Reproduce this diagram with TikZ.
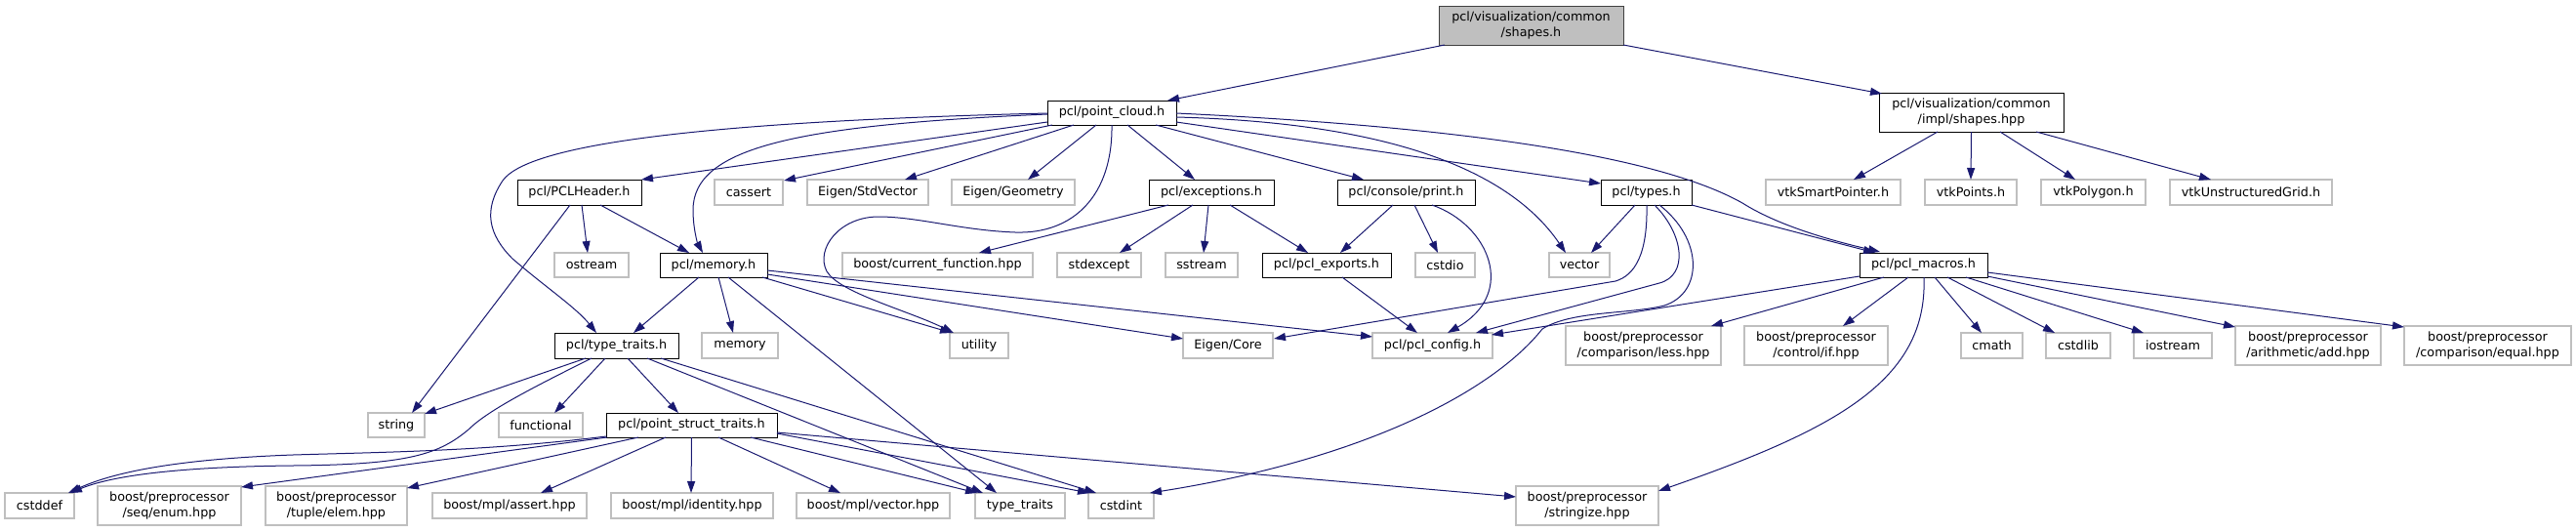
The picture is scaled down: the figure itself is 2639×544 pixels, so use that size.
\documentclass[tikz,border=0pt]{standalone}
\usepackage{fontspec}
\setmainfont{DejaVu Sans}
\usetikzlibrary{calc,arrows.meta}
\definecolor{edgec}{HTML}{191970}
\definecolor{extc}{HTML}{BFBFBF}
\definecolor{rootfill}{HTML}{BFBFBF}
\definecolor{rootdraw}{HTML}{404040}
\tikzset{
  box/.style={rectangle, inner sep=0pt, align=center, font=\fontsize{12.75pt}{16pt}\selectfont, line width=1pt, text=black},
  docbox/.style={box, draw=black, fill=white},
  extbox/.style={box, draw=extc, fill=white, line width=1.3pt},
  rootbox/.style={box, draw=rootdraw, fill=rootfill},
  oneline/.style={minimum height=25pt},
  twoline/.style={minimum height=40pt},
  e/.style={draw=edgec, line width=1pt, -{Triangle[length=12pt,width=8pt]}},
}
\begin{document}
\begin{tikzpicture}[x=1pt,y=-1pt]
\useasboundingbox (0,0) rectangle (2639,544);
% row 0/1
\node[rootbox, twoline, minimum width=189pt] (shapesh) at (1568.5,26) {pcl/visualization/common\\/shapes.h};
\node[docbox, oneline, minimum width=132pt] (pc) at (1139,115.5) {pcl/point\_cloud.h};
\node[docbox, twoline, minimum width=189pt] (shapeshpp) at (2019.5,115) {pcl/visualization/common\\/impl/shapes.hpp};
% row 2
\node[docbox, oneline, minimum height=26pt, minimum width=127pt] (pclheader) at (593.5,197) {pcl/PCLHeader.h};
\node[extbox, minimum height=26pt, minimum width=70pt] (cassert) at (767,197) {cassert};
\node[extbox, minimum height=26pt, minimum width=124pt] (stdvector) at (889,197) {Eigen/StdVector};
\node[extbox, minimum height=26pt, minimum width=126pt] (geometry) at (1038,197) {Eigen/Geometry};
\node[docbox, minimum height=26pt, minimum width=128pt] (exceptions) at (1241,197) {pcl/exceptions.h};
\node[docbox, minimum height=26pt, minimum width=141pt] (print) at (1440.5,197) {pcl/console/print.h};
\node[docbox, minimum height=26pt, minimum width=93pt] (types) at (1686.5,197) {pcl/types.h};
\node[extbox, minimum height=26pt, minimum width=138pt] (vtksp) at (1878,197) {vtkSmartPointer.h};
\node[extbox, minimum height=26pt, minimum width=94pt] (vtkpoints) at (2019,197) {vtkPoints.h};
\node[extbox, minimum height=26pt, minimum width=107pt] (vtkpolygon) at (2144.5,197) {vtkPolygon.h};
\node[extbox, minimum height=26pt, minimum width=166pt] (vtkug) at (2306,197) {vtkUnstructuredGrid.h};
% row 3
\node[extbox, oneline, minimum width=76pt] (ostream) at (606,271.5) {ostream};
\node[docbox, oneline, minimum width=110pt] (memoryh) at (731,271.5) {pcl/memory.h};
\node[extbox, oneline, minimum width=195pt] (curfn) at (960.5,271.5) {boost/current\_function.hpp};
\node[extbox, oneline, minimum width=86pt] (stdexcept) at (1126,271.5) {stdexcept};
\node[extbox, oneline, minimum width=74pt] (sstream) at (1231,271.5) {sstream};
\node[docbox, oneline, minimum width=132pt] (exports) at (1359,271.5) {pcl/pcl\_exports.h};
\node[extbox, oneline, minimum width=61pt] (cstdio) at (1480.5,271.5) {cstdio};
\node[extbox, oneline, minimum width=62pt] (vector) at (1618,271.5) {vector};
\node[docbox, oneline, minimum width=131pt] (macros) at (1970.5,271.5) {pcl/pcl\_macros.h};
% row 4
\node[docbox, minimum height=26pt, minimum width=127pt] (typetraitsh) at (631.5,354) {pcl/type\_traits.h};
\node[extbox, minimum height=26pt, minimum width=78pt] (memory) at (758,354) {memory};
\node[extbox, minimum height=26pt, minimum width=60pt] (utility) at (1003,354) {utility};
\node[extbox, minimum height=26pt, minimum width=92pt] (eigencore) at (1258,354) {Eigen/Core};
\node[extbox, minimum height=26pt, minimum width=123pt] (config) at (1467.5,354) {pcl/pcl\_config.h};
\node[extbox, twoline, minimum width=159pt] (less) at (1683.5,354) {boost/preprocessor\\/comparison/less.hpp};
\node[extbox, twoline, minimum width=147pt] (ifhpp) at (1860.5,354) {boost/preprocessor\\/control/if.hpp};
\node[extbox, minimum height=26pt, minimum width=63pt] (cmath) at (2040.5,354) {cmath};
\node[extbox, minimum height=26pt, minimum width=66pt] (cstdlib) at (2129,354) {cstdlib};
\node[extbox, minimum height=26pt, minimum width=80pt] (iostream) at (2226,354) {iostream};
\node[extbox, twoline, minimum width=149pt] (add) at (2364.5,354) {boost/preprocessor\\/arithmetic/add.hpp};
\node[extbox, twoline, minimum width=171pt] (equal) at (2548.5,354) {boost/preprocessor\\/comparison/equal.hpp};
% row 5
\node[extbox, oneline, minimum width=58pt] (string) at (406,435.5) {string};
\node[extbox, oneline, minimum width=86pt] (functional) at (554,435.5) {functional};
\node[docbox, oneline, minimum width=175pt] (pst) at (708.5,435.5) {pcl/point\_struct\_traits.h};
% row 6
\node[extbox, minimum height=26pt, minimum width=71pt] (cstddef) at (40.5,518) {cstddef};
\node[extbox, twoline, minimum width=147pt] (enum) at (173.5,518) {boost/preprocessor\\/seq/enum.hpp};
\node[extbox, twoline, minimum width=145pt] (elem) at (344.5,518) {boost/preprocessor\\/tuple/elem.hpp};
\node[extbox, minimum height=26pt, minimum width=158pt] (assert) at (522,518) {boost/mpl/assert.hpp};
\node[extbox, minimum height=26pt, minimum width=166pt] (identity) at (709,518) {boost/mpl/identity.hpp};
\node[extbox, minimum height=26pt, minimum width=157pt] (mplvector) at (894.5,518) {boost/mpl/vector.hpp};
\node[extbox, minimum height=26pt, minimum width=92pt] (typetraits) at (1045,518) {type\_traits};
\node[extbox, minimum height=26pt, minimum width=67pt] (cstdint) at (1148.5,518) {cstdint};
\node[extbox, twoline, minimum width=146pt] (stringize) at (1626,518) {boost/preprocessor\\/stringize.hpp};

% edges from shapes.h and shapes.hpp
\draw[e] ($(shapesh.center)+(-88.5,20)$) -- ($(pc.center)+(57,-12.5)$);
\draw[e] ($(shapesh.center)+(94.5,20)$) -- ($(shapeshpp.center)+(-91.5,-19)$);
\draw[e] ($(shapeshpp.center)+(-34.5,20)$) -- ($(vtksp.center)+(21,-13)$);
\draw[e] ($(shapeshpp.center)+(0,20)$) -- ($(vtkpoints.center)+(0,-13)$);
\draw[e] ($(shapeshpp.center)+(29.5,20)$) -- ($(vtkpolygon.center)+(-18.5,-13)$);
\draw[e] ($(shapeshpp.center)+(66.5,20)$) -- ($(vtkug.center)+(-41,-13)$);
% point_cloud.h
\draw[e] ($(pc.center)+(-66,9.5)$) -- ($(pclheader.center)+(63.5,-13)$);
\draw[e] ($(pc.center)+(-61,12.5)$) -- ($(cassert.center)+(36,-12)$);
\draw[e] ($(pc.center)+(-39,12.5)$) -- ($(stdvector.center)+(38,-13)$);
\draw[e] ($(pc.center)+(-16,12.5)$) -- ($(geometry.center)+(15,-13)$);
\draw[e] ($(pc.center)+(16,12.5)$) -- ($(exceptions.center)+(-17,-13)$);
\draw[e] ($(pc.center)+(45,12.5)$) -- ($(print.center)+(-43.5,-13)$);
\draw[e] ($(pc.center)+(66,9.5)$) -- ($(types.center)+(-46.5,-9)$);
\draw[e] ($(pc.center)+(66,4.5)$) .. controls (1400,125) and (1540,165) .. ($(vector.center)+(-14,-12.5)$);
\draw[e] ($(pc.center)+(66,0.5)$) .. controls (1500,130) and (1700,160) .. (1785,208) .. controls (1820,230) and (1870,245) .. ($(macros.center)+(-44.5,-13.5)$);
\draw[e] ($(pc.center)+(-66,1.5)$) .. controls (820,128) and (710,150) .. (710,215) .. controls (710,235) and (715,250) .. ($(memoryh.center)+(-11,-12.5)$);
\draw[e] ($(pc.center)+(-66,0.5)$) .. controls (700,125) and (540,150) .. (515,185) .. controls (495,215) and (500,240) .. (525,265) .. controls (560,295) and (590,315) .. ($(typetraitsh.center)+(-20.5,-13)$);
\draw[e] ($(pc.center)+(0,12.5)$) .. controls (1140,200) and (1100,240) .. (1040,238) .. controls (985,236) and (940,222) .. (900,222) .. controls (860,222) and (835,255) .. (847,278) .. controls (860,300) and (930,318) .. ($(utility.center)+(-26,-13)$);
% PCLHeader.h
\draw[e] ($(pclheader.center)+(-9.5,13)$) -- ($(string.center)+(16,-12.5)$);
\draw[e] ($(pclheader.center)+(2.5,13)$) -- ($(ostream.center)+(-4,-12.5)$);
\draw[e] ($(pclheader.center)+(21.5,13)$) -- ($(memoryh.center)+(-25,-12.5)$);
% memory.h
\draw[e] ($(memoryh.center)+(-15,12.5)$) -- ($(typetraitsh.center)+(17.5,-13)$);
\draw[e] ($(memoryh.center)+(5,12.5)$) -- ($(memory.center)+(-7,-13)$);
\draw[e] ($(memoryh.center)+(15,12.5)$) -- ($(typetraits.center)+(-24,-13)$);
\draw[e] ($(memoryh.center)+(50,12.5)$) -- ($(utility.center)+(-28,-13)$);
\draw[e] ($(memoryh.center)+(55,9.5)$) -- ($(eigencore.center)+(-46,-7)$);
\draw[e] ($(memoryh.center)+(55,5.5)$) -- ($(config.center)+(-61.5,-9)$);
% exceptions.h
\draw[e] ($(exceptions.center)+(-44,13)$) -- ($(curfn.center)+(42.5,-12.5)$);
\draw[e] ($(exceptions.center)+(-19,13)$) -- ($(stdexcept.center)+(21,-12.5)$);
\draw[e] ($(exceptions.center)+(-3,13)$) -- ($(sstream.center)+(2,-12.5)$);
\draw[e] ($(exceptions.center)+(19,13)$) -- ($(exports.center)+(-19,-12.5)$);
% print.h
\draw[e] ($(print.center)+(-13.5,13)$) -- ($(exports.center)+(14,-12.5)$);
\draw[e] ($(print.center)+(8.5,13)$) -- ($(cstdio.center)+(-7.5,-12.5)$);
\draw[e] ($(print.center)+(26.5,13)$) .. controls (1525,230) and (1555,300) .. ($(config.center)+(15.5,-13)$);
% types.h
\draw[e] ($(types.center)+(-11.5,13)$) -- ($(vector.center)+(12,-12.5)$);
\draw[e] ($(types.center)+(0.5,13)$) .. controls (1688,260) and (1675,282) .. (1655,288) -- ($(eigencore.center)+(47,-7)$);
\draw[e] ($(types.center)+(8.5,13)$) .. controls (1725,240) and (1730,282) .. (1700,290) -- ($(config.center)+(44.5,-13)$);
\draw[e] ($(types.center)+(13.5,13)$) .. controls (1745,245) and (1745,300) .. (1705,313) .. controls (1670,322) and (1610,318) .. (1580,337) .. controls (1530,400) and (1400,470) .. ($(cstdint.center)+(29.5,-13)$);
\draw[e] ($(types.center)+(46.5,13)$) -- ($(macros.center)+(-49.5,-12.5)$);
% pcl_exports.h
\draw[e] ($(exports.center)+(16,12.5)$) -- ($(config.center)+(-15.5,-13)$);
% pcl_macros.h
\draw[e] ($(macros.center)+(-65.5,11.5)$) -- ($(config.center)+(60.5,-11)$);
\draw[e] ($(macros.center)+(-40.5,12.5)$) -- ($(less.center)+(69.5,-20)$);
\draw[e] ($(macros.center)+(-15.5,12.5)$) -- ($(ifhpp.center)+(27.5,-20)$);
\draw[e] ($(macros.center)+(11.5,12.5)$) -- ($(cmath.center)+(-10.5,-13)$);
\draw[e] ($(macros.center)+(24.5,12.5)$) -- ($(cstdlib.center)+(-24,-13)$);
\draw[e] ($(macros.center)+(43.5,12.5)$) -- ($(iostream.center)+(-30,-13)$);
\draw[e] ($(macros.center)+(65.5,11.5)$) -- ($(add.center)+(-74.5,-19)$);
\draw[e] ($(macros.center)+(65.5,7.5)$) -- ($(equal.center)+(-85.5,-19)$);
\draw[e] ($(macros.center)+(0.5,12.5)$) .. controls (1975,390) and (1880,440) .. ($(stringize.center)+(73,-15)$);
% type_traits.h (pcl)
\draw[e] ($(typetraitsh.center)+(-31.5,13)$) -- ($(string.center)+(29,-11.5)$);
\draw[e] ($(typetraitsh.center)+(-25.5,13)$) .. controls (550,395) and (500,420) .. (480,440) .. controls (450,465) and (420,476) .. (300,477) .. controls (200,478) and (120,485) .. ($(cstddef.center)+(31.5,-13)$);
\draw[e] ($(typetraitsh.center)+(-11.5,13)$) -- ($(functional.center)+(14,-12.5)$);
\draw[e] ($(typetraitsh.center)+(11.5,13)$) -- ($(pst.center)+(-13.5,-12.5)$);
\draw[e] ($(typetraitsh.center)+(31.5,13)$) -- ($(typetraits.center)+(-38,-13)$);
\draw[e] ($(typetraitsh.center)+(45.5,13)$) -- ($(cstdint.center)+(-25.5,-13)$);
% point_struct_traits.h
\draw[e] ($(pst.center)+(-87.5,11.5)$) .. controls (500,462) and (400,463) .. (300,466) .. controls (190,470) and (120,482) .. ($(cstddef.center)+(29.5,-13)$);
\draw[e] ($(pst.center)+(-86.5,12.5)$) -- ($(enum.center)+(73.5,-19)$);
\draw[e] ($(pst.center)+(-54.5,12.5)$) -- ($(elem.center)+(72.5,-18)$);
\draw[e] ($(pst.center)+(-26.5,12.5)$) -- ($(assert.center)+(32,-13)$);
\draw[e] ($(pst.center)+(0,12.5)$) -- ($(identity.center)+(-1,-13)$);
\draw[e] ($(pst.center)+(27.5,12.5)$) -- ($(mplvector.center)+(-33.5,-13)$);
\draw[e] ($(pst.center)+(60.5,12.5)$) -- ($(typetraits.center)+(-44,-13)$);
\draw[e] ($(pst.center)+(87.5,8.5)$) -- ($(cstdint.center)+(-32.5,-13)$);
\draw[e] ($(pst.center)+(87.5,7.5)$) -- ($(stringize.center)+(-73,-9)$);
\end{tikzpicture}
\end{document}
